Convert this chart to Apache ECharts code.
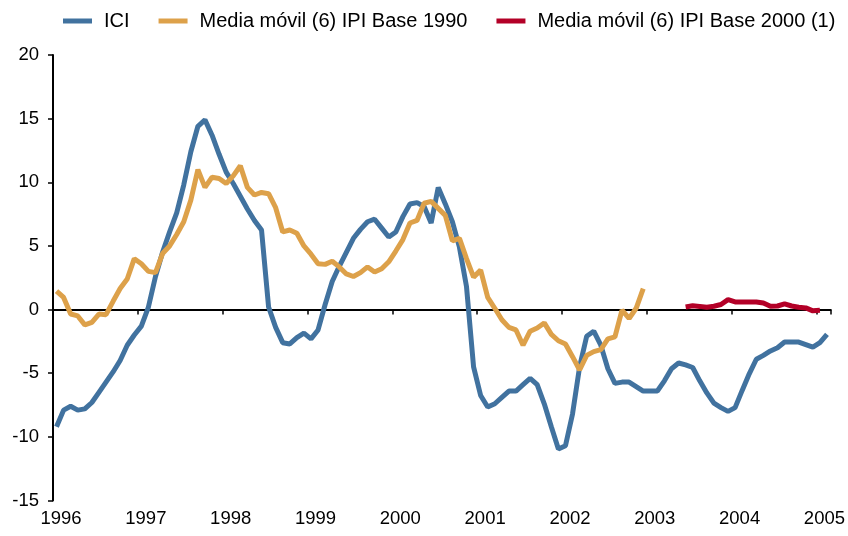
<!DOCTYPE html>
<html>
<head>
<meta charset="utf-8">
<script src="https://cdn.jsdelivr.net/npm/echarts@6/dist/echarts.min.js"></script>
<style>
  html, body { margin: 0; padding: 0; background: #fff; }
  #chart { width: 848px; height: 536px; }
</style>
</head>
<body>
<div id="chart"></div>
<script>
// Monthly observations, January 1996 – February 2005
const years = ['1996', '1997', '1998', '1999', '2000', '2001', '2002', '2003', '2004', '2005'];
const startYear = 1996;
const monthCount = 110;

// ICI (one value per month)
const ici = [
  -9.2, -7.9, -7.6, -7.9, -7.8, -7.3, -6.5, -5.7, -4.9, -4.0, -2.8, -2.0,
  -1.3, 0.2, 2.6, 4.5, 6.1, 7.6, 9.8, 12.4, 14.4, 14.9, 13.7, 12.2,
  10.8, 9.9, 8.9, 7.9, 7.0, 6.25, 0.2, -1.4, -2.6, -2.7, -2.2, -1.85,
  -2.3, -1.6, 0.4, 2.2, 3.4, 4.5, 5.6, 6.3, 6.9, 7.1, 6.4, 5.7,
  6.1, 7.3, 8.3, 8.4, 8.1, 6.8, 9.6, 8.3, 6.9, 4.9, 1.8, -4.5,
  -6.75, -7.65, -7.4, -6.9, -6.4, -6.4, -5.9, -5.4, -5.9, -7.4, -9.2, -10.95,
  -10.7, -8.2, -4.5, -2.1, -1.7, -2.8, -4.65, -5.8, -5.7, -5.7, -6.05, -6.4,
  -6.4, -6.4, -5.6, -4.65, -4.2, -4.35, -4.55, -5.6, -6.55, -7.35, -7.7, -8.0,
  -7.7, -6.35, -5.05, -3.9, -3.6, -3.25, -3.0, -2.55, -2.55, -2.55, -2.75, -2.95,
  -2.6, -1.95
];

// Media móvil (6) IPI Base 1990, January 1996 – December 2002
const ipi1990 = [
  1.45, 0.95, -0.35, -0.5, -1.2, -1.0, -0.35, -0.4, 0.65, 1.65, 2.4, 4.0,
  3.6, 3.0, 2.9, 4.4, 5.0, 5.9, 6.9, 8.6, 11.0, 9.6, 10.4, 10.3,
  9.9, 10.5, 11.3, 9.6, 9.0, 9.2, 9.1, 8.0, 6.1, 6.25, 6.0, 5.0,
  4.35, 3.6, 3.55, 3.8, 3.35, 2.8, 2.6, 2.9, 3.35, 2.95, 3.2, 3.75,
  4.6, 5.5, 6.8, 7.0, 8.35, 8.5, 7.95, 7.4, 5.4, 5.6, 4.0, 2.55,
  3.1, 0.95, 0.1, -0.8, -1.4, -1.6, -2.8, -1.7, -1.45, -1.05, -1.95, -2.45,
  -2.7, -3.7, -4.75, -3.6, -3.3, -3.15, -2.3, -2.15, -0.05, -0.7, 0.1, 1.65
];

// Media móvil (6) IPI Base 2000, June 2003 – January 2005
const ipi2000Start = 89;
const ipi2000 = [
  0.2, 0.3, 0.25, 0.18, 0.26, 0.4, 0.78, 0.6, 0.6, 0.6,
  0.6, 0.52, 0.26, 0.28, 0.45, 0.28, 0.18, 0.13, -0.1, -0.05
];

const seriesNames = ['ICI', 'Media móvil (6) IPI Base 1990', 'Media móvil (6) IPI Base 2000 (1)'];
const colors = ['#41729F', '#DDA14A', '#B30027'];

// Month labels for the category axis
const months = [];
for (let i = 0; i < monthCount; i++) {
  const y = startYear + Math.floor(i / 12);
  const m = (i % 12) + 1;
  months.push(y + '-' + (m < 10 ? '0' + m : m));
}

function pad(arr, offset) {
  const out = new Array(monthCount).fill(null);
  arr.forEach((v, k) => { out[offset + k] = v; });
  return out;
}

const yearLabel = (value, idx) => {
  if (idx % 12 !== 0) return '';
  return years[idx / 12] || '';
};

const chart = echarts.init(document.getElementById('chart'), null, { renderer: 'canvas' });
const font = 'Liberation Sans, Arial, sans-serif';

chart.setOption({
  animation: false,
  backgroundColor: '#ffffff',
  color: colors,
  legend: {
    top: 6,
    left: 58,
    itemWidth: 29,
    itemHeight: 5,
    itemGap: 29,
    icon: 'rect',
    textStyle: { fontFamily: font, fontSize: 20, color: '#000', padding: [0, 0, 0, 7] },
    data: seriesNames
  },
  grid: { left: 53, right: 15, top: 55, bottom: 35.5 },
  xAxis: [
    {
      type: 'category',
      data: months,
      boundaryGap: true,
      axisLine: { onZero: true, lineStyle: { color: '#000', width: 2 } },
      axisTick: { show: true, interval: 11, length: 5, lineStyle: { color: '#000', width: 1.5 } },
      axisLabel: { show: false },
      splitLine: { show: false }
    },
    {
      type: 'category',
      data: months,
      position: 'bottom',
      boundaryGap: true,
      axisLine: { show: false, onZero: false },
      axisTick: { show: false },
      axisLabel: {
        interval: 0,
        formatter: yearLabel,
        fontFamily: font,
        fontSize: 18.5,
        color: '#000',
        margin: 9,
        padding: [0, 0, 0, 9]
      },
      splitLine: { show: false }
    }
  ],
  yAxis: {
    type: 'value',
    min: -15,
    max: 20,
    interval: 5,
    axisLine: { show: true, lineStyle: { color: '#000', width: 2 } },
    axisTick: { show: true, length: 5, lineStyle: { color: '#000', width: 1.5 } },
    axisLabel: { fontFamily: font, fontSize: 18.5, color: '#000', margin: 14 },
    splitLine: { show: false }
  },
  series: [
    {
      name: seriesNames[0], type: 'line', xAxisIndex: 0,
      data: ici, showSymbol: false, symbol: 'none',
      lineStyle: { width: 5, color: colors[0] }, z: 3
    },
    {
      name: seriesNames[1], type: 'line', xAxisIndex: 0,
      data: pad(ipi1990, 0), showSymbol: false, symbol: 'none',
      lineStyle: { width: 5, color: colors[1] }, z: 4
    },
    {
      name: seriesNames[2], type: 'line', xAxisIndex: 0,
      data: pad(ipi2000, ipi2000Start), showSymbol: false, symbol: 'none',
      lineStyle: { width: 5, color: colors[2] }, z: 5
    }
  ]
});
</script>
</body>
</html>
